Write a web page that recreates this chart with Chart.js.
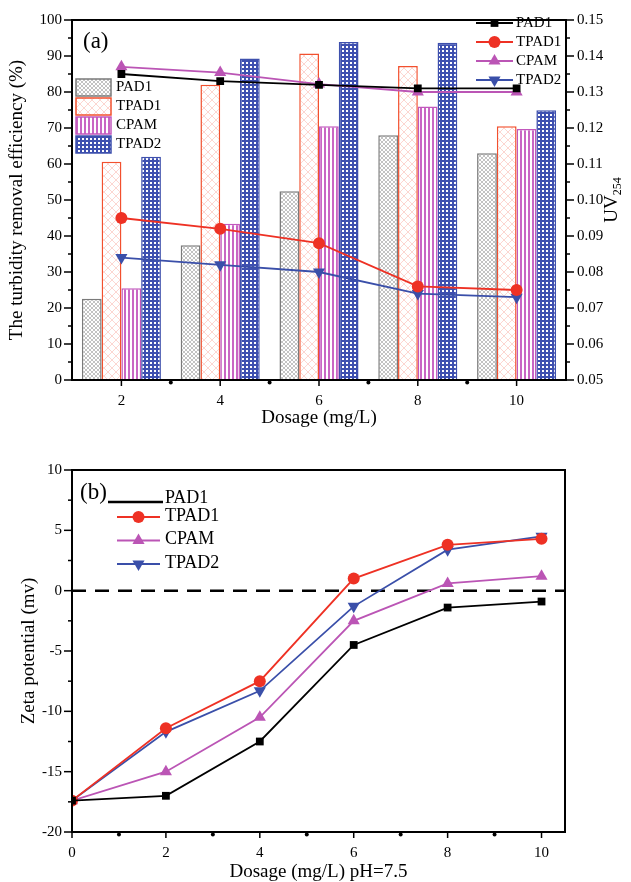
<!DOCTYPE html>
<html>
<head>
<meta charset="utf-8">
<script src="https://cdn.jsdelivr.net/npm/chart.js@4"></script>
<style>
  body { margin: 0; background: #fff; }
  canvas { display: block; }
</style>
</head>
<body>
<canvas id="chartA" width="631" height="441"></canvas>
<canvas id="chartB" width="631" height="441"></canvas>
<script>
// ---- data ----
const dosageLabels = ['2', '4', '6', '8', '10'];
const seriesNames = ['PAD1', 'TPAD1', 'CPAM', 'TPAD2'];

// (a) turbidity removal efficiency, %
const turbPAD1 = [22.6, 37.4, 52.4, 68.0, 63.0];
const turbTPAD1 = [60.6, 82.0, 90.7, 87.2, 70.5];
const turbCPAM = [25.5, 43.4, 70.5, 76.0, 69.7];
const turbTPAD2 = [62.0, 89.3, 93.9, 93.7, 74.9];

// (a) UV254
const uvPAD1 = [0.135, 0.133, 0.132, 0.131, 0.131];
const uvTPAD1 = [0.095, 0.092, 0.088, 0.076, 0.075];
const uvCPAM = [0.137, 0.1354, 0.1322, 0.130, 0.130];
const uvTPAD2 = [0.084, 0.082, 0.080, 0.074, 0.073];

const turbTicks = [0, 10, 20, 30, 40, 50, 60, 70, 80, 90, 100];
const uvTicks = [0.05, 0.06, 0.07, 0.08, 0.09, 0.10, 0.11, 0.12, 0.13, 0.14, 0.15];

// (b) zeta potential, mV
const zetaDosage = [0, 2, 4, 6, 8, 10];
const zetaPAD1 = [-17.4, -17.0, -12.5, -4.5, -1.4, -0.9];
const zetaTPAD1 = [-17.4, -11.4, -7.5, 1.0, 3.8, 4.3];
const zetaCPAM = [-17.4, -15.0, -10.5, -2.5, 0.6, 1.2];
const zetaTPAD2 = [-17.4, -11.7, -8.3, -1.3, 3.4, 4.5];

const zetaXTicks = [0, 2, 4, 6, 8, 10];
const zetaYTicks = [-20, -15, -10, -5, 0, 5, 10];

const FONT = '"Liberation Serif", "Times New Roman", serif';
Chart.defaults.font.family = FONT;
Chart.defaults.color = '#000';

const lineColors = { PAD1: '#000000', TPAD1: '#ee3124', CPAM: '#bb55b5', TPAD2: '#3a4fa9' };
const barBorders = { PAD1: '#7a7a7a', TPAD1: '#f2502e', CPAM: '#c258bd', TPAD2: '#3e50ad' };
const markers = {
    PAD1: { style: 'rect', r: 5.5, rot: 0 },
    TPAD1: { style: 'circle', r: 6, rot: 0 },
    CPAM: { style: 'triangle', r: 7, rot: 0 },
    TPAD2: { style: 'triangle', r: 7, rot: 180 }
};

// ---- hatch patterns for the bars ----
function makePattern(size, paint) {
    const c = document.createElement('canvas');
    c.width = c.height = size;
    const g = c.getContext('2d');
    g.fillStyle = '#fff';
    g.fillRect(0, 0, size, size);
    paint(g, size);
    return g.createPattern(c, 'repeat');
}
const patterns = {
    PAD1: makePattern(4, (g, s) => {
        g.strokeStyle = '#9a9a9a'; g.lineWidth = 0.6;
        g.beginPath(); g.moveTo(0, 0); g.lineTo(s, s); g.moveTo(s, 0); g.lineTo(0, s); g.stroke();
    }),
    TPAD1: makePattern(8, (g, s) => {
        g.strokeStyle = '#fbc4bd'; g.lineWidth = 0.7;
        g.beginPath(); g.moveTo(0, 0); g.lineTo(s, s); g.moveTo(s, 0); g.lineTo(0, s); g.stroke();
    }),
    CPAM: makePattern(4, (g, s) => {
        g.fillStyle = '#c966c4'; g.fillRect(0, 0, 2, s);
    }),
    TPAD2: makePattern(4, (g, s) => {
        g.fillStyle = '#3e50b0'; g.fillRect(0, 0, s, 2); g.fillRect(0, 0, 2, s);
    })
};

// marker drawer (same geometry as chart.js point styles)
function drawMarker(ctx, m, x, y) {
    ctx.beginPath();
    if (m.style === 'circle') {
        ctx.arc(x, y, m.r, 0, Math.PI * 2);
    } else if (m.style === 'rect') {
        const s = Math.SQRT1_2 * m.r;
        ctx.rect(x - s, y - s, 2 * s, 2 * s);
    } else {
        let rad = m.rot * Math.PI / 180;
        for (let k = 0; k < 3; k++) {
            const px = x + Math.sin(rad) * m.r, py = y - Math.cos(rad) * m.r;
            if (k === 0) ctx.moveTo(px, py); else ctx.lineTo(px, py);
            rad += 2 * Math.PI / 3;
        }
        ctx.closePath();
    }
    ctx.fill();
}

// frame, tick marks (major + minor) and minor dots on x axis
const axesDeco = {
    id: 'axesDeco',
    afterDraw(chart) {
        const { ctx, chartArea: a } = chart;
        ctx.save();
        ctx.strokeStyle = '#000';
        ctx.fillStyle = '#000';
        ctx.lineWidth = 2;
        ctx.strokeRect(a.left, a.top, a.right - a.left, a.bottom - a.top);
        ctx.lineWidth = 1.5;
        Object.values(chart.scales).forEach(s => {
            const n = s.ticks.length;
            const px = s.ticks.map((t, i) => s.getPixelForTick(i));
            const mids = [];
            for (let i = 0; i < n - 1; i++) mids.push((px[i] + px[i + 1]) / 2);
            if (s.isHorizontal()) {
                px.forEach(p => { ctx.beginPath(); ctx.moveTo(p, a.bottom); ctx.lineTo(p, a.bottom + 6); ctx.stroke(); });
                mids.forEach(p => { ctx.beginPath(); ctx.arc(p, a.bottom + 2.5, 2, 0, Math.PI * 2); ctx.fill(); });
            } else {
                const x0 = s.position === 'left' ? a.left : a.right;
                const dir = s.position === 'left' ? -1 : 1;
                px.forEach(p => { ctx.beginPath(); ctx.moveTo(x0, p); ctx.lineTo(x0 + dir * 8, p); ctx.stroke(); });
                mids.forEach(p => { ctx.beginPath(); ctx.moveTo(x0, p); ctx.lineTo(x0 + dir * 4, p); ctx.stroke(); });
            }
        });
        ctx.restore();
    }
};

function text(ctx, str, x, y, size, align) {
    ctx.font = size + 'px ' + FONT;
    ctx.textAlign = align || 'left';
    ctx.textBaseline = 'middle';
    ctx.fillStyle = '#000';
    ctx.fillText(str, x, y);
}

function lineEntry(ctx, name, x1, x2, y, withMarker) {
    ctx.strokeStyle = lineColors[name];
    ctx.fillStyle = lineColors[name];
    ctx.lineWidth = name === 'PAD1' && !withMarker ? 2.5 : 1.8;
    ctx.beginPath(); ctx.moveTo(x1, y); ctx.lineTo(x2, y); ctx.stroke();
    if (withMarker) drawMarker(ctx, markers[name], (x1 + x2) / 2, y);
}

const legendA = {
    id: 'legendA',
    afterDraw(chart) {
        const ctx = chart.ctx;
        ctx.save();
        text(ctx, '(a)', 83, 42, 23);
        seriesNames.forEach((name, i) => {
            const y = 87.5 + i * 19;
            ctx.fillStyle = patterns[name];
            ctx.fillRect(76, y - 8.5, 35, 17);
            ctx.strokeStyle = barBorders[name];
            ctx.lineWidth = 1.5;
            ctx.strokeRect(76, y - 8.5, 35, 17);
            text(ctx, name, 116, y, 15);
        });
        seriesNames.forEach((name, i) => {
            const y = 23 + i * 19;
            lineEntry(ctx, name, 476, 513, y, true);
            text(ctx, name, 516, y, 15);
        });
        // right axis title: UV with subscript 254, reading bottom to top
        ctx.translate(612, 200);
        ctx.rotate(-Math.PI / 2);
        ctx.font = '19px ' + FONT;
        const w1 = ctx.measureText('UV').width;
        ctx.font = '12px ' + FONT;
        const w2 = ctx.measureText('254').width;
        const x0 = -(w1 + w2) / 2;
        text(ctx, 'UV', x0, 0, 19);
        text(ctx, '254', x0 + w1, 6, 12);
        ctx.restore();
    }
};

const legendB = {
    id: 'legendB',
    afterDraw(chart) {
        const ctx = chart.ctx;
        ctx.save();
        text(ctx, '(b)', 80, 52, 23);
        lineEntry(ctx, 'PAD1', 108, 163, 61, false);
        text(ctx, 'PAD1', 165, 57, 18);
        ['TPAD1', 'CPAM', 'TPAD2'].forEach((name, i) => {
            const y = 76 + i * 23.5;
            lineEntry(ctx, name, 117, 160, y, true);
            text(ctx, name, 165, y - 1, 18);
        });
        ctx.restore();
    }
};

function barSet(name, data) {
    return {
        type: 'bar', label: name, data: data, yAxisID: 'y', order: 1,
        backgroundColor: patterns[name], borderColor: barBorders[name], borderWidth: 1.5,
        categoryPercentage: 0.8, barPercentage: 1.0
    };
}
function lineSet(name, data, axis) {
    const m = markers[name];
    return {
        type: 'line', label: name, data: data, yAxisID: axis, order: 0,
        borderColor: lineColors[name], backgroundColor: lineColors[name], borderWidth: 1.8,
        pointStyle: m.style, pointRadius: m.r, pointRotation: m.rot, pointBorderWidth: 0,
        tension: 0
    };
}
function xyData(arr) {
    return zetaDosage.map((x, i) => ({ x: x, y: arr[i] }));
}

const noGrid = { display: false, drawTicks: false };
const noBorder = { display: false };
const titleFont = { size: 19, lineHeight: 1 };

new Chart(document.getElementById('chartA'), {
    type: 'bar',
    data: {
        labels: dosageLabels,
        datasets: [
            barSet('PAD1', turbPAD1),
            barSet('TPAD1', turbTPAD1),
            barSet('CPAM', turbCPAM),
            barSet('TPAD2', turbTPAD2),
            lineSet('PAD1', uvPAD1, 'y1'),
            lineSet('TPAD1', uvTPAD1, 'y1'),
            lineSet('CPAM', uvCPAM, 'y1'),
            lineSet('TPAD2', uvTPAD2, 'y1')
        ]
    },
    options: {
        responsive: false,
        animation: false,
        layout: { padding: { top: 15, bottom: 13, left: 0, right: 0 } },
        plugins: { legend: { display: false }, tooltip: { enabled: false } },
        scales: {
            x: {
                type: 'category', offset: true,
                grid: noGrid, border: noBorder,
                ticks: { font: { size: 15 }, padding: 12, maxRotation: 0 },
                title: { display: true, text: 'Dosage (mg/L)', font: titleFont, padding: { top: 0, bottom: 0 } },
                afterFit: s => { s.height = 48; }
            },
            y: {
                position: 'left', min: 0, max: 100,
                afterBuildTicks: s => { s.ticks = turbTicks.map(v => ({ value: v })); },
                grid: noGrid, border: noBorder,
                ticks: { font: { size: 15 }, padding: 10, autoSkip: false },
                title: { display: true, text: 'The turbidity removal efficiency (%)', font: titleFont, padding: { top: 8, bottom: 0 } },
                afterFit: s => { s.width = 72; }
            },
            y1: {
                position: 'right', min: 0.05, max: 0.15,
                afterBuildTicks: s => { s.ticks = uvTicks.map(v => ({ value: v })); },
                grid: noGrid, border: noBorder,
                ticks: { font: { size: 15 }, padding: 11, autoSkip: false, callback: v => v.toFixed(2) },
                afterFit: s => { s.width = 65; }
            }
        }
    },
    plugins: [axesDeco, legendA]
});

new Chart(document.getElementById('chartB'), {
    type: 'line',
    data: {
        datasets: [
            lineSet('PAD1', xyData(zetaPAD1), 'y'),
            lineSet('TPAD1', xyData(zetaTPAD1), 'y'),
            lineSet('CPAM', xyData(zetaCPAM), 'y'),
            lineSet('TPAD2', xyData(zetaTPAD2), 'y'),
            {
                label: 'zero', data: [{ x: 0, y: 0 }, { x: 10.5, y: 0 }], order: 5,
                borderColor: '#000', borderWidth: 2.5, borderDash: [14, 9], pointRadius: 0
            }
        ]
    },
    options: {
        responsive: false,
        animation: false,
        layout: { padding: { top: 29, bottom: 0, left: 0, right: 66 } },
        plugins: { legend: { display: false }, tooltip: { enabled: false } },
        scales: {
            x: {
                type: 'linear', min: 0, max: 10.5,
                afterBuildTicks: s => { s.ticks = zetaXTicks.map(v => ({ value: v })); },
                grid: noGrid, border: noBorder,
                ticks: { font: { size: 15 }, padding: 12, maxRotation: 0, autoSkip: false },
                title: { display: true, text: 'Dosage (mg/L) pH=7.5', font: titleFont, padding: { top: 0, bottom: 0 } },
                afterFit: s => { s.height = 50; }
            },
            y: {
                position: 'left', min: -20, max: 10,
                afterBuildTicks: s => { s.ticks = zetaYTicks.map(v => ({ value: v })); },
                grid: noGrid, border: noBorder,
                ticks: { font: { size: 15 }, padding: 10, autoSkip: false },
                title: { display: true, text: 'Zeta potential (mv)', font: titleFont, padding: { top: 20, bottom: 0 } },
                afterFit: s => { s.width = 72; }
            }
        }
    },
    plugins: [axesDeco, legendB]
});
</script>
</body>
</html>
